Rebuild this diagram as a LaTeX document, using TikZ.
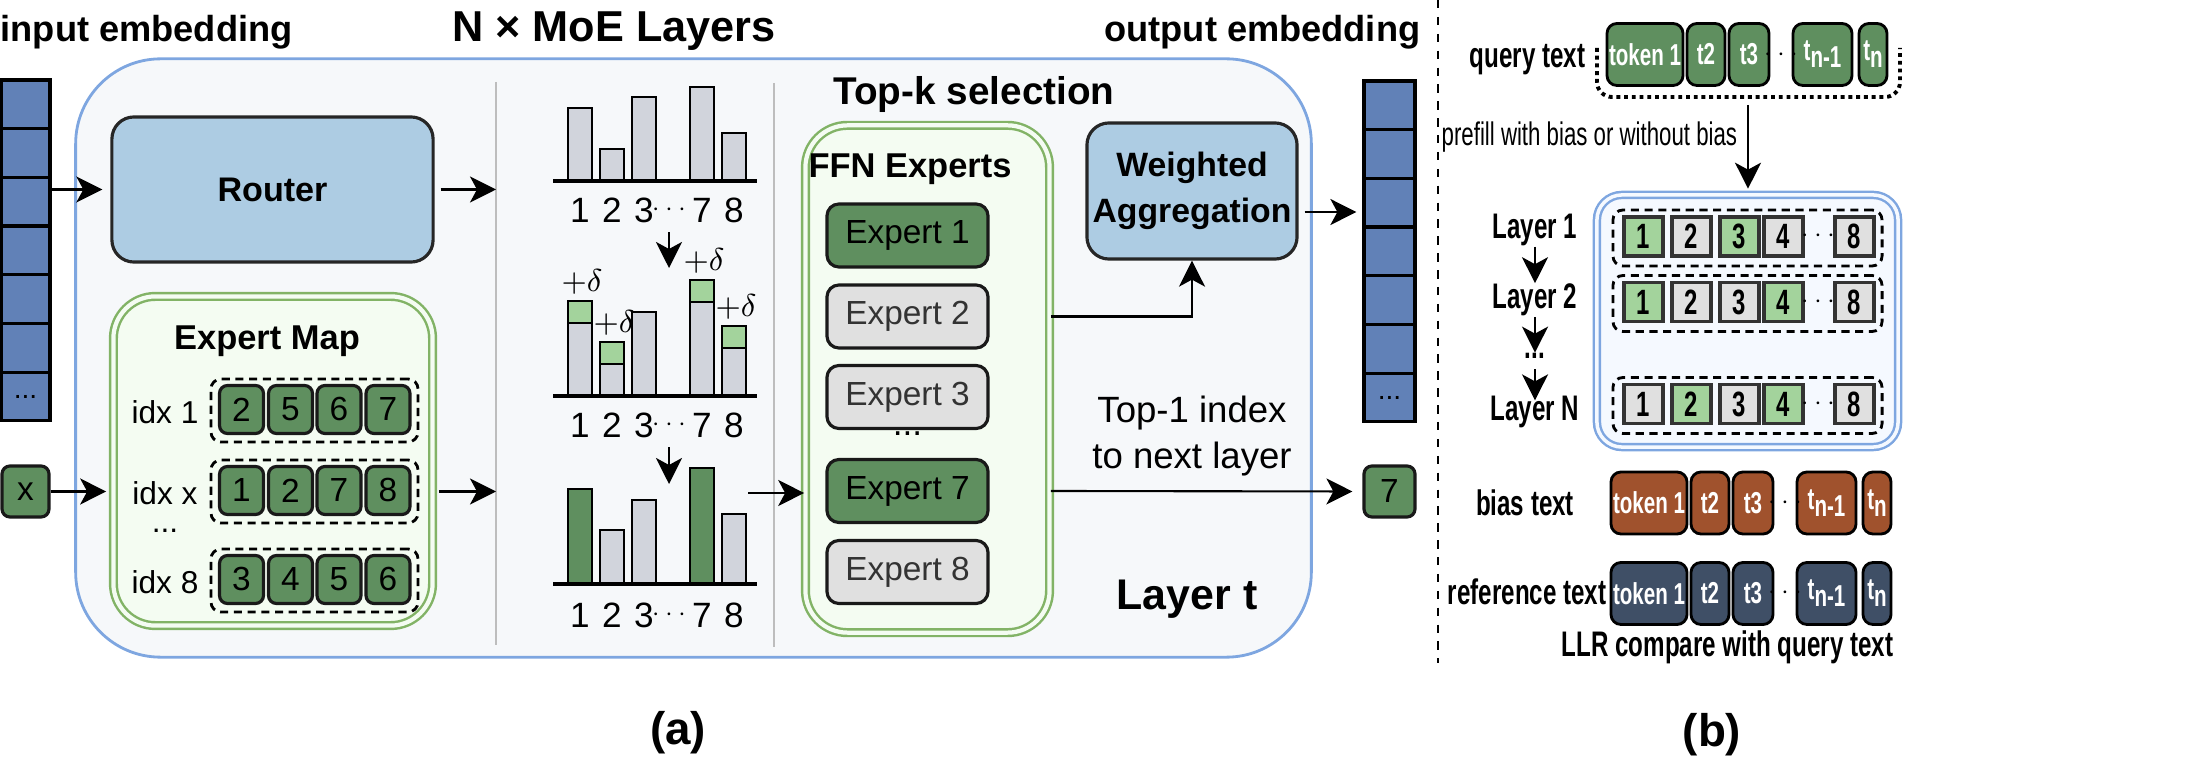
\documentclass[tikz,border=0pt]{standalone}
\usepackage{fontspec}
\setmainfont{Liberation Sans}
\newfontfamily\narrowfont[FakeStretch=0.68]{Liberation Sans}
\usetikzlibrary{arrows.meta, positioning}

\definecolor{EmbBlue}{HTML}{6181B7}
\definecolor{RouterBlue}{HTML}{ADCCE3}
\definecolor{OuterBlue}{HTML}{7EA6E0}
\definecolor{OuterFill}{HTML}{F6F8FA}
\definecolor{DarkGreen}{HTML}{5F8F5F}
\definecolor{LightGreen}{HTML}{A3D39C}
\definecolor{MapGreen}{HTML}{82B366}
\definecolor{MapFill}{HTML}{F4FCF2}
\definecolor{BarGray}{HTML}{D1D4DC}
\definecolor{ExpGray}{HTML}{E0E0E0}
\definecolor{SepGray}{HTML}{BDBDBD}
\definecolor{BiasBrown}{HTML}{A0522D}
\definecolor{RefSlate}{HTML}{3F4F66}
\definecolor{LayFill}{HTML}{F5F9FF}

\newcommand{\tsub}[1]{\raisebox{-0.45ex}{#1}}

\tikzset{OuterStyle/.style = {
            shape          = rectangle,
            rounded corners= 0.85cm,
            draw           = OuterBlue,
            fill           = OuterFill,
            line width     = 0.8pt}
        }
\tikzset{BlockStyle/.style = {
            rounded corners= 0.22cm,
            draw           = black!85,
            fill           = RouterBlue,
            line width     = 0.9pt,
            inner sep      = 0pt,
            font           = \bfseries\fontsize{9.7}{13}\selectfont}
        }
\tikzset{MapStyle/.style = {
            rounded corners= 0.42cm,
            draw           = MapGreen,
            double         = MapFill,
            double distance= 1.2pt,
            fill           = MapFill,
            line width     = 0.7pt}
        }
\tikzset{LayBoxStyle/.style = {
            rounded corners= 0.25cm,
            draw           = OuterBlue,
            double         = LayFill,
            double distance= 1pt,
            fill           = LayFill,
            line width     = 0.7pt}
        }
\tikzset{EmbCell/.style = {
            draw           = black,
            fill           = EmbBlue,
            line width     = 0.9pt,
            minimum width  = 0.49cm,
            minimum height = 0.487cm,
            inner sep      = 0pt,
            font           = \fontsize{8}{9}\selectfont}
        }
\tikzset{SqStyle/.style = {
            rounded corners= 0.08cm,
            draw           = black!90,
            fill           = DarkGreen,
            line width     = 0.9pt,
            minimum width  = 0.44cm,
            minimum height = 0.48cm,
            inner sep      = 0pt,
            font           = \fontsize{9.5}{11}\selectfont}
        }
\tikzset{RowStyle/.style = {
            draw           = black,
            dash pattern   = on 2.3pt off 1.6pt,
            rounded corners= 0.1cm,
            line width     = 0.8pt}
        }
\tikzset{ExpStyle/.style = {
            rounded corners= 0.12cm,
            draw           = black!90,
            line width     = 0.9pt,
            minimum width  = 1.61cm,
            minimum height = 0.63cm,
            inner sep      = 0pt,
            font           = \fontsize{9.5}{11}\selectfont}
        }
\tikzset{TokenStyle/.style = {
            rounded corners= 0.1cm,
            draw           = black,
            line width     = 0.8pt,
            minimum height = 0.62cm,
            inner sep      = 0pt,
            text           = white,
            font           = \narrowfont\bfseries\fontsize{8.6}{10}\selectfont}
        }
\tikzset{CellStyle/.style = {
            draw           = black!80,
            line width     = 0.9pt,
            minimum size   = 0.39cm,
            inner sep      = 0pt,
            font           = \narrowfont\bfseries\fontsize{10}{11}\selectfont}
        }
\tikzset{BarStyle/.style   = {draw=black, fill=BarGray, line width=0.8pt}}
\tikzset{SepStyle/.style   = {draw=SepGray, line width=0.6pt}}
\tikzset{ArrowStyle/.style = {line width=0.6pt, -{Stealth[length=2.6mm, width=2.6mm, inset=0.7mm]}}}
\tikzset{TitleStyle/.style = {inner sep=0pt, font=\bfseries\fontsize{10.3}{12}\selectfont}}
\tikzset{HeadStyle/.style  = {inner sep=0pt, font=\bfseries\fontsize{9.8}{12}\selectfont}}
\tikzset{IdxStyle/.style   = {inner sep=0pt, font=\fontsize{9}{11}\selectfont}}
\tikzset{NumStyle/.style   = {inner sep=0pt, font=\fontsize{10}{12}\selectfont}}
\tikzset{DeltaStyle/.style = {inner sep=0pt, font=\fontsize{9}{10}\selectfont}}
\tikzset{DotStyle/.style   = {inner sep=0pt, font=\fontsize{7}{7}\selectfont}}
\tikzset{LabStyle/.style   = {inner sep=0pt, font=\fontsize{10.4}{13}\selectfont}}
\tikzset{CapStyle/.style   = {inner sep=0pt, font=\bfseries\fontsize{13}{15}\selectfont}}
\tikzset{NarrowLab/.style  = {inner sep=0pt, font=\narrowfont\bfseries\fontsize{10.1}{11}\selectfont}}
\tikzset{NarrowReg/.style  = {inner sep=0pt, font=\narrowfont\fontsize{9.3}{10}\selectfont}}

\begin{document}
\begin{tikzpicture}[x=0.01cm, y=-0.01cm]
    \useasboundingbox (0,0) rectangle (2190,761);

    % (a) one MoE layer
    \node[OuterStyle, minimum width=12.35cm, minimum height=5.98cm] (moe) at (693.5,358) {};
    \node[TitleStyle, anchor=base west] (inlab) at (0,42) {input embedding};
    \node[TitleStyle, anchor=base east] (outlab) at (1421,42) {output embedding};
    \node[TitleStyle, anchor=base, font=\bfseries\fontsize{12.3}{14}\selectfont] (moelab) at (614,42) {N × MoE Layers};

    \foreach \i in {1,...,6}{
        \pgfmathsetmacro{\cy}{104.35+48.7*(\i-1)}
        \node[EmbCell] (in\i) at (25.5,\cy) {};
        \node[EmbCell, minimum width=0.51cm] (out\i) at (1389.5,\cy+1) {};
    }
    \node[EmbCell] (in7) at (25.5,396.55) {...};
    \node[EmbCell, minimum width=0.51cm] (out7) at (1389.5,397.55) {...};

    \node[BlockStyle, minimum width=3.21cm, minimum height=1.45cm] (router) at (272.5,189.5) {Router};
    \coordinate (sepA) at (496,82);
    \coordinate (sepAb) at (496,645);
    \coordinate (sepB) at (774,83);
    \coordinate (sepBb) at (774,647);
    \draw[SepStyle] (sepA) -- (sepAb);
    \draw[SepStyle] (sepB) -- (sepBb);
    \draw[ArrowStyle, shorten >=0.08cm] (in1.east |- router.west) -- (router.west);
    \draw[ArrowStyle, shorten <=0.06cm] (router.east) -- (sepA |- router.east);

    % expert map
    \node[MapStyle, minimum width=3.19cm, minimum height=3.29cm] (emap) at (273,461) {};
    \node[HeadStyle, anchor=base] (emaplab) at (267,350) {Expert Map};
    \foreach \rw/\ry/\rl/\va/\vb/\vc/\vd in {1/410.5/idx 1/2/5/6/7, x/491.5/idx x/1/2/7/8, 8/580.5/idx 8/3/4/5/6}{
        \node[IdxStyle] (idx\rw) at (165,\ry+2) {\rl};
        \node[RowStyle, minimum width=2.07cm, minimum height=0.63cm] (row\rw) at (314.5,\ry) {};
        \foreach \k/\dig [count=\m] in {241.5/\va, 290.5/\vb, 339/\vc, 388/\vd}
            \node[SqStyle] (sq\rw\m) at (\k,\ry-1) {\dig};
    }
    \node[IdxStyle] (idxdots) at (165,531) {...};
    \node[SqStyle, minimum width=0.47cm, minimum height=0.51cm] (xin) at (25.5,491.5) {x};
    \draw[ArrowStyle, shorten >=0.06cm] (xin.east) -- (xin.east -| emap.west);
    \draw[ArrowStyle, shorten <=0.05cm] (emap.east |- rowx.east) -- (sepA |- rowx.east);

    % score charts
    \foreach \bx/\bh/\bd/\bc in {568/73/22/DarkGreen, 600/32/22/BarGray, 632/84/0/BarGray, 690/94/22/DarkGreen, 722/48/22/BarGray}{
        \draw[BarStyle] (\bx,181) rectangle ++(24,-\bh);
        \draw[BarStyle] (\bx,396) rectangle ++(24,-\bh);
        \ifnum\bd>0
            \draw[BarStyle, fill=LightGreen] (\bx,396-\bh) rectangle ++(24,-\bd);
            \node[DeltaStyle] (delta\bx) at (\bx+14,396-\bh-\bd-19) {$+\delta$};
        \fi
        \draw[BarStyle, fill=\bc] (\bx,584) rectangle ++(24,-\bh-\bd);
    }
    \foreach \cy/\ly/\ch in {181/210/A, 396/425/B, 584/615/C}{
        \draw[line width=1pt] (553,\cy) -- (757,\cy);
        \foreach \lx/\lt in {580/1, 612/2, 644/3, 702/7, 734/8}
            \node[NumStyle] (lab\ch\lt) at (\lx,\ly) {\lt};
        \node[DotStyle] (dots\ch) at (669,\ly) {$\cdots$};
    }
    \coordinate (dnA) at (669,268);
    \coordinate (dnB) at (669,484);
    \draw[ArrowStyle, shorten <=0.16cm] (dotsA.south) -- (dotsA.south |- dnA);
    \draw[ArrowStyle, shorten <=0.16cm] (dotsB.south) -- (dotsB.south |- dnB);

    % experts
    \node[TitleStyle, anchor=base, font=\bfseries\fontsize{11}{13}\selectfont] (topk) at (974,105) {Top-k selection};
    \node[MapStyle, minimum width=2.44cm, minimum height=5.07cm] (ffn) at (927.5,379) {};
    \node[HeadStyle, anchor=base] (ffnlab) at (910,178) {FFN Experts};
    \foreach \e/\ey/\ef/\et in {1/235.5/DarkGreen/black, 2/316.5/ExpGray/black!80, 3/397/ExpGray/black!80, 7/491/DarkGreen/black, 8/572/ExpGray/black!80}
        \node[ExpStyle, fill=\ef, text=\et] (e\e) at (907.5,\ey) {Expert \e};
    \node[NumStyle] (edots) at (907.5,434) {...};
    \coordinate (c3out) at (748,493);
    \draw[ArrowStyle] (c3out) -- (c3out -| ffn.west);

    \node[BlockStyle, align=center, minimum width=2.10cm, minimum height=1.36cm, font=\bfseries\fontsize{9.6}{13}\selectfont] (wa) at (1192,191) {Weighted\\Aggregation};
    \node[SqStyle, minimum width=0.51cm, minimum height=0.51cm] (seven) at (1389.5,491.5) {7};
    \draw[ArrowStyle] (ffn.east |- e2.east) -| (wa.south);
    \draw[ArrowStyle, shorten >=0.1cm] (ffn.east |- e7.east) -- (seven.west);
    \coordinate (waout) at ([yshift=-0.21cm]wa.east);
    \draw[ArrowStyle, shorten <=0.06cm, shorten >=0.06cm] (waout) -- (waout -| out1.west);
    \node[LabStyle, align=center] (top1) at (1192,436) {Top-1 index\\to next layer};
    \node[CapStyle, font=\bfseries\fontsize{12.2}{14}\selectfont, anchor=base] (layt) at (1187,610) {Layer t};
    \node[CapStyle] (capa) at (678,733) {(a)};

    % (b) bias probing
    \draw[line width=0.8pt, dash pattern=on 2.4pt off 2.4pt] (1438,0) -- (1438,663);
    \foreach \n/\tx/\tw/\tok in {1/1645/0.76/token 1, 2/1706/0.38/t2, 3/1749/0.40/t3, 4/1822.5/0.59/t\tsub{n-1}, 5/1873/0.28/t\tsub{n}}{
        \node[TokenStyle, fill=DarkGreen, minimum width=\tw cm] (q\n) at (\tx,54.5) {\tok};
        \node[TokenStyle, fill=BiasBrown, minimum width=\tw cm] (b\n) at (\tx+4,503) {\tok};
        \node[TokenStyle, fill=RefSlate, minimum width=\tw cm] (r\n) at (\tx+4,593.5) {\tok};
    }
    \node[DotStyle] (qdots) at (1781,55) {$\cdots$};
    \node[DotStyle] (bdots) at (1785,503) {$\cdots$};
    \node[DotStyle] (rdots) at (1785,593) {$\cdots$};
    \draw[line width=1.1pt, dash pattern=on 1.1pt off 1.1pt, rounded corners=0.15cm] (1597,48) |- (1900,97) -- (1900,48);

    \node[NarrowLab, anchor=east] (qlab) at (1586,60) {query text};
    \node[NarrowReg, anchor=west] (prefill) at (1441,137) {prefill with bias or without bias};
    \node[LayBoxStyle, minimum width=3.01cm, minimum height=2.52cm] (lay) at (1747.5,321) {};
    \coordinate (qdown) at (1748,105);
    \draw[ArrowStyle, shorten >=0.05cm] (qdown) -- (qdown |- lay.north);

    \foreach \rw/\ry/\fa/\fb/\fc/\fd in {1/238/LightGreen/ExpGray/LightGreen/ExpGray, 2/303.5/LightGreen/ExpGray/ExpGray/LightGreen, N/405.5/ExpGray/LightGreen/ExpGray/LightGreen}{
        \node[RowStyle, minimum width=2.69cm, minimum height=0.56cm] (lrow\rw) at (1747.5,\ry) {};
        \foreach \k/\cx/\cf in {1/1643.5/\fa, 2/1691.5/\fb, 3/1739.5/\fc, 4/1783.5/\fd}
            \node[CellStyle, fill=\cf] (c\rw\k) at (\cx,\ry-1.5) {\k};
        \node[CellStyle, fill=ExpGray] (c\rw8) at (1854.5,\ry-1.5) {8};
        \node[DotStyle] (ldots\rw) at (1818,\ry-2) {$\cdots$};
    }
    \node[NarrowLab] (L1) at (1535,230) {Layer 1};
    \node[NarrowLab] (L2) at (1535,300) {Layer 2};
    \node[NarrowLab] (Ld) at (1535,356) {...};
    \node[NarrowLab] (LN) at (1535,412) {Layer N};
    \draw[ArrowStyle] (L1) -- (L2);
    \draw[ArrowStyle] (L2) -- (Ld);
    \draw[ArrowStyle, shorten <=0.1cm, shorten >=-0.05cm] (Ld) -- (LN);

    \node[NarrowLab] (blab) at (1525,503) {bias text};
    \node[NarrowLab, anchor=east] (rlab) at (1607,592) {reference text};
    \node[NarrowLab] (llr) at (1727.5,647) {LLR compare with query text};
    \node[CapStyle] (capb) at (1712,735) {(b)};
\end{tikzpicture}
\end{document}
